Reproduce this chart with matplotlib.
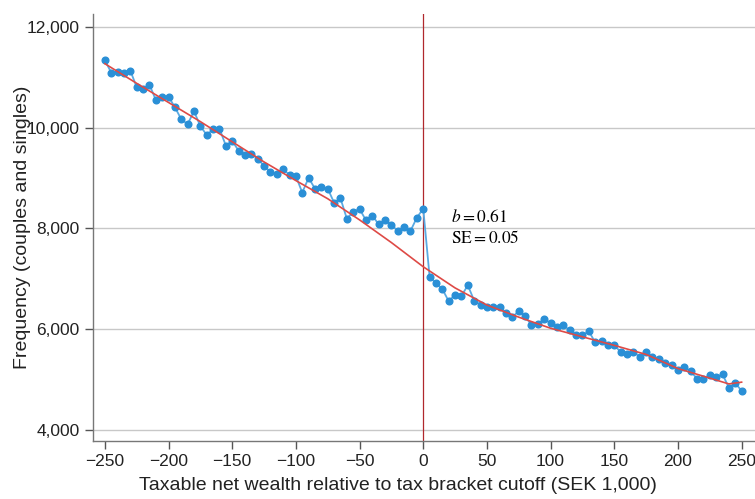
import numpy as np
import matplotlib
matplotlib.use('Agg')
import matplotlib.pyplot as plt
from matplotlib.ticker import FuncFormatter

# ---- data ----
wealth_bins = list(range(-250, 255, 5))

frequency = [
    11339, 11093, 11100, 11080, 11133, 10803, 10769, 10855, 10551, 10617,
    10617, 10406, 10168, 10069, 10327, 10029, 9856, 9969, 9982, 9644,
    9737, 9545, 9465, 9485, 9386, 9241, 9122, 9088, 9175, 9062,
    9042, 8711, 9003, 8790, 8824, 8790, 8512, 8600, 8195, 8328,
    8387, 8163, 8254, 8084, 8169, 8070, 7951, 8030, 7951, 8215,
    8393, 7044, 6912, 6799, 6555, 6686, 6660, 6873, 6567, 6482,
    6448, 6436, 6448, 6329, 6237, 6363, 6263, 6079, 6112, 6198,
    6124, 6039, 6079, 5979, 5880, 5880, 5960, 5741, 5773, 5688,
    5681, 5549, 5503, 5555, 5450, 5549, 5455, 5404, 5324, 5284,
    5197, 5251, 5166, 5019, 5019, 5086, 5046, 5106, 4840, 4927,
    4781,
]

fit_x = [-250, -225, -200, -175, -150, -125, -100, -75, -50, -25, 0,
         25, 50, 75, 100, 125, 150, 175, 200, 225, 240, 250]
fit_y = [11270, 10880, 10500, 10120, 9720, 9320, 8950, 8590, 8170, 7720, 7240,
         6820, 6480, 6240, 6020, 5850, 5680, 5500, 5220, 5030, 4915, 4950]

x_ticks = [-250, -200, -150, -100, -50, 0, 50, 100, 150, 200, 250]
y_ticks = [4000, 6000, 8000, 10000, 12000]

plt.rcParams['font.family'] = ['Liberation Sans', 'DejaVu Sans']
plt.rcParams['mathtext.fontset'] = 'stix'

fig = plt.figure(figsize=(7.55, 4.99), dpi=100)
ax = fig.add_axes([0.123, 0.1162, 0.877, 0.856])

ax.set_xlim(-259.4, 260.5)
ax.set_ylim(3782, 12258)

for yv in y_ticks:
    ax.axhline(yv, color='#c8c8c8', lw=1.0, zorder=0)

ax.axvline(0, color='#b0282d', lw=0.9, zorder=1)

ax.plot(wealth_bins, frequency, color='#5aaae2', lw=1.3, zorder=2)
ax.plot(wealth_bins, frequency, 'o', color='#2a8fd6', markersize=4.8, zorder=3)
ax.plot(fit_x, fit_y, color='#de4a46', lw=1.2, zorder=4)

ax.text(22, 8230, r'$b = 0.61$', fontsize=12.5, va='center')
ax.text(22, 7830, r'$\mathrm{SE} = 0.05$', fontsize=12.5, va='center')

ax.set_xticks(x_ticks)
ax.set_yticks(y_ticks)
ax.yaxis.set_major_formatter(FuncFormatter(lambda v, p: f'{int(v):,}'))
ax.tick_params(axis='both', colors='#555555', labelcolor='#222222',
               labelsize=12.5, length=6, width=1)

for side in ('top', 'right'):
    ax.spines[side].set_visible(False)
for side in ('left', 'bottom'):
    ax.spines[side].set_color('#777777')
    ax.spines[side].set_linewidth(1.0)

ax.set_xlabel('Taxable net wealth relative to tax bracket cutoff (SEK 1,000)',
              fontsize=14, color='#222222')
ax.set_ylabel('Frequency (couples and singles)', fontsize=14, color='#222222')
ax.xaxis.set_label_coords(0.461, -0.085)
ax.yaxis.set_label_coords(-0.094, 0.5)

fig.savefig('out.png', dpi=100)
